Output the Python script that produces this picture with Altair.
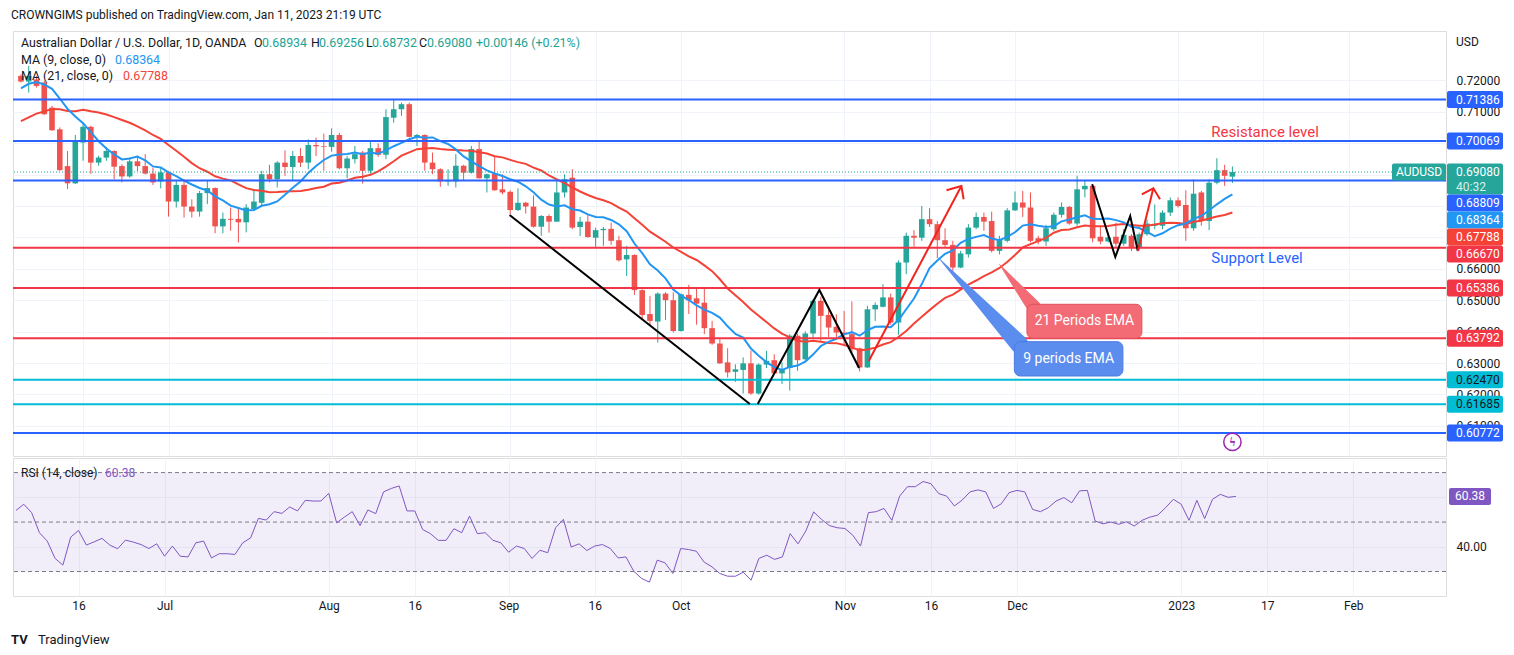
import altair as alt
import pandas as pd

# ------------------------------------------------------------------ data
# daily candles, bar index 0 = Jun 6 2022 ... 156 = Jan 11 2023
opens = [0.7214,0.7196,0.7203,0.7193,0.7113,0.7044,0.6927,0.6872,0.7002,0.7052,
 0.6938,0.6954,0.6975,0.6927,0.6894,0.6942,0.6927,0.6903,0.6878,0.6907,
 0.6814,0.6867,0.6798,0.6782,0.6841,0.6857,0.6735,0.6759,0.6759,0.6748,
 0.6790,0.6810,0.6901,0.6885,0.6938,0.6924,0.6959,0.6938,0.6994,0.6990,
 0.6988,0.7026,0.6920,0.6949,0.6970,0.6912,0.6984,0.6963,0.7081,0.7108,
 0.7124,0.7020,0.7026,0.6938,0.6917,0.6878,0.6878,0.6928,0.6906,0.6981,
 0.6888,0.6903,0.6853,0.6845,0.6787,0.6810,0.6798,0.6734,0.6768,0.6750,
 0.6843,0.6890,0.6733,0.6750,0.6699,0.6723,0.6727,0.6691,0.6630,0.6644,
 0.6532,0.6456,0.6432,0.6521,0.6500,0.6402,0.6517,0.6506,0.6492,0.6411,
 0.6362,0.6302,0.6272,0.6278,0.6299,0.6203,0.6295,0.6309,0.6267,0.6284,
 0.6387,0.6312,0.6394,0.6498,0.6453,0.6415,0.6397,0.6392,0.6347,0.6286,
 0.6471,0.6479,0.6509,0.6429,0.6620,0.6705,0.6699,0.6758,0.6742,0.6691,
 0.6676,0.6604,0.6646,0.6731,0.6765,0.6752,0.6657,0.6689,0.6786,0.6811,
 0.6795,0.6697,0.6687,0.6726,0.6772,0.6797,0.6744,0.6853,0.6864,0.6702,
 0.6687,0.6702,0.6680,0.6705,0.6668,0.6710,0.6737,0.6737,0.6779,0.6818,
 0.6803,0.6729,0.6843,0.6752,0.6874,0.6914,0.68934]
highs = [0.7219,0.7246,0.7214,0.7198,0.7119,0.7050,0.6975,0.7026,0.7065,0.7055,
 0.6960,0.6988,0.6977,0.6933,0.6954,0.6960,0.6965,0.6922,0.6922,0.6912,
 0.6880,0.6885,0.6821,0.6848,0.6880,0.6859,0.6779,0.6795,0.6795,0.6806,
 0.6854,0.6912,0.6931,0.6943,0.6977,0.6975,0.6984,0.7012,0.7018,0.7030,
 0.7047,0.7033,0.6959,0.6991,0.6975,0.7005,0.6999,0.7108,0.7140,0.7129,
 0.7129,0.7029,0.7028,0.6970,0.6920,0.6917,0.6965,0.6931,0.6991,0.7009,
 0.6903,0.6959,0.6901,0.6850,0.6856,0.6813,0.6834,0.6771,0.6773,0.6885,
 0.6901,0.6917,0.6765,0.6773,0.6731,0.6733,0.6747,0.6705,0.6673,0.6646,
 0.6535,0.6514,0.6525,0.6525,0.6525,0.6521,0.6549,0.6538,0.6538,0.6434,
 0.6376,0.6347,0.6296,0.6318,0.6339,0.6299,0.6339,0.6328,0.6302,0.6392,
 0.6394,0.6401,0.6503,0.6511,0.6468,0.6455,0.6466,0.6496,0.6349,0.6482,
 0.6493,0.6551,0.6521,0.6627,0.6715,0.6723,0.6800,0.6793,0.6752,0.6729,
 0.6689,0.6657,0.6742,0.6779,0.6779,0.6782,0.6705,0.6793,0.6846,0.6848,
 0.6843,0.6705,0.6740,0.6779,0.6811,0.6800,0.6896,0.6880,0.6869,0.6737,
 0.6715,0.6747,0.6726,0.6710,0.6715,0.6758,0.6805,0.6786,0.6827,0.6827,
 0.6850,0.6885,0.6848,0.6885,0.6952,0.6931,0.69256]
lows = [0.7193,0.7161,0.7177,0.7090,0.7039,0.6912,0.6854,0.6870,0.6944,0.6902,
 0.6928,0.6944,0.6885,0.6875,0.6890,0.6911,0.6900,0.6867,0.6856,0.6766,
 0.6795,0.6763,0.6763,0.6766,0.6806,0.6713,0.6713,0.6721,0.6684,0.6716,
 0.6785,0.6800,0.6875,0.6859,0.6896,0.6882,0.6924,0.6917,0.6959,0.6912,
 0.6973,0.6917,0.6888,0.6935,0.6871,0.6903,0.6956,0.6949,0.7065,0.7087,
 0.7018,0.6991,0.6912,0.6901,0.6861,0.6864,0.6859,0.6880,0.6903,0.6888,
 0.6843,0.6848,0.6837,0.6774,0.6784,0.6776,0.6731,0.6705,0.6715,0.6750,
 0.6827,0.6726,0.6704,0.6699,0.6670,0.6673,0.6676,0.6623,0.6577,0.6517,
 0.6436,0.6419,0.6365,0.6437,0.6397,0.6400,0.6456,0.6422,0.6392,0.6358,
 0.6297,0.6254,0.6240,0.6203,0.6199,0.6199,0.6284,0.6263,0.6233,0.6212,
 0.6275,0.6307,0.6381,0.6371,0.6383,0.6381,0.6360,0.6334,0.6273,0.6284,
 0.6434,0.6477,0.6422,0.6390,0.6583,0.6670,0.6689,0.6733,0.6634,0.6666,
 0.6591,0.6602,0.6636,0.6726,0.6721,0.6652,0.6646,0.6684,0.6784,0.6765,
 0.6684,0.6678,0.6673,0.6721,0.6763,0.6740,0.6737,0.6827,0.6684,0.6678,
 0.6684,0.6668,0.6673,0.6657,0.6659,0.6705,0.6726,0.6726,0.6768,0.6795,
 0.6689,0.6721,0.6737,0.6723,0.6869,0.6864,0.68732]
closes = [0.7196,0.7214,0.7182,0.7092,0.7041,0.6914,0.6872,0.7009,0.7052,0.6938,
 0.6954,0.6975,0.6925,0.6894,0.6942,0.6927,0.6903,0.6875,0.6907,0.6814,
 0.6867,0.6798,0.6782,0.6841,0.6857,0.6735,0.6759,0.6756,0.6748,0.6795,
 0.6814,0.6901,0.6885,0.6938,0.6924,0.6959,0.6938,0.6994,0.6990,0.6988,
 0.7026,0.6920,0.6951,0.6965,0.6912,0.6984,0.6963,0.7083,0.7108,0.7124,
 0.7020,0.7026,0.6938,0.6917,0.6878,0.6882,0.6928,0.6906,0.6981,0.6888,
 0.6901,0.6850,0.6843,0.6787,0.6810,0.6798,0.6734,0.6768,0.6750,0.6843,
 0.6885,0.6731,0.6750,0.6701,0.6723,0.6727,0.6689,0.6627,0.6644,0.6532,
 0.6453,0.6434,0.6521,0.6500,0.6402,0.6519,0.6500,0.6489,0.6411,0.6362,
 0.6299,0.6270,0.6280,0.6299,0.6203,0.6295,0.6307,0.6267,0.6281,0.6387,
 0.6309,0.6394,0.6498,0.6450,0.6413,0.6397,0.6392,0.6344,0.6286,0.6471,
 0.6485,0.6509,0.6429,0.6620,0.6705,0.6699,0.6758,0.6742,0.6691,0.6676,
 0.6604,0.6649,0.6731,0.6765,0.6750,0.6657,0.6694,0.6786,0.6811,0.6795,
 0.6689,0.6687,0.6729,0.6772,0.6797,0.6744,0.6853,0.6864,0.6697,0.6687,
 0.6700,0.6680,0.6708,0.6668,0.6710,0.6744,0.6742,0.6779,0.6818,0.6800,
 0.6729,0.6839,0.6752,0.6874,0.6914,0.6896,0.69080]
# closes of the 20 sessions before the first visible bar (only feed the moving averages)
pre_closes = [0.6960,0.6930,0.6945,0.6870,0.6935,0.6990,0.7030,0.6950,0.7040,0.7040,
 0.7105,0.7100,0.7085,0.7130,0.7165,0.7165,0.7190,0.7170,0.7225,0.7245]

rsi_values = [54.7,57.2,53.8,45.7,42.3,35.3,32.6,43.9,46.6,40.7,
 42.0,43.4,40.7,39.2,42.7,41.9,40.9,39.3,41.2,36.2,
 40.3,36.2,35.9,41.6,42.3,35.5,37.2,37.2,36.9,41.6,
 43.6,51.5,50.8,54.2,53.5,56.1,54.5,58.8,58.5,58.5,
 61.6,49.7,52.0,54.2,48.6,54.9,53.4,62.2,63.6,64.6,
 54.5,54.5,47.0,45.3,42.6,42.6,47.3,45.7,52.4,45.3,
 45.7,42.6,41.6,37.8,40.3,39.3,35.3,38.6,37.6,47.7,
 51.1,39.9,41.2,38.5,40.3,40.9,39.3,35.5,35.9,30.1,
 27.2,25.7,34.6,33.5,29.2,39.3,38.9,38.2,33.8,31.9,
 29.2,28.1,28.1,29.7,26.5,35.3,36.6,34.9,35.9,45.3,
 41.2,46.4,54.1,51.1,48.6,47.7,47.4,44.7,40.3,53.8,
 54.2,55.5,50.7,60.5,64.3,64.3,66.4,65.5,61.5,60.5,
 56.5,58.9,62.2,63.0,62.2,55.5,57.4,61.9,62.8,62.2,
 55.1,54.2,55.8,58.5,59.9,57.8,62.6,62.8,50.4,49.3,
 50.0,49.1,50.1,48.4,50.7,52.0,52.8,55.8,59.2,57.2,
 50.7,58.8,51.4,59.2,61.2,60.0,60.38]

date_tick_idx = [8, 19, 40, 51, 63, 74, 85, 106, 117, 128, 149, 160, 171]
date_tick_labels = ["16", "Jul", "Aug", "16", "Sep", "16", "Oct", "Nov", "16", "Dec", "2023", "17", "Feb"]
price_tick_values = [0.61, 0.62, 0.63, 0.64, 0.65, 0.66, 0.67, 0.68, 0.69, 0.70, 0.71, 0.72]
price_ticks_covered = ["0.67000", "0.68000", "0.69000", "0.70000"]   # hidden behind labels on the source
rsi_tick_values = [40, 60]
rsi_band = [30, 70]
rsi_dashed = [70, 50, 30]

level_prices = [0.71386, 0.70069, 0.68809, 0.66670, 0.65386, 0.63792, 0.62470, 0.61685, 0.60772]
level_groups = ["blue", "blue", "blue", "red", "red", "red", "cyan", "cyan", "blue"]

last_close = 0.69080
ma9_last = 0.68364
ma21_last = 0.67788
rsi_last = 60.38
countdown = "40:32"

# drawings in (bar index, price)
black_seg = ["a", "a", "b", "b", "b", "c", "c", "c", "c"]
black_idx = [62.92, 93.86, 94.88, 102.81, 107.93, 137.94, 140.92, 142.84, 143.82]
black_price = [0.67713, 0.61696, 0.61696, 0.65325, 0.62842, 0.68691, 0.66376, 0.67681, 0.66567]
arrow_seg = ["s1", "s1", "h1", "h1", "h1", "s2", "s2", "h2", "h2", "h2"]
arrow_idx = [109.17, 121.10, 119.18, 121.10, 121.39, 143.82, 145.82, 144.33, 145.82, 146.68]
arrow_price = [0.63065, 0.68636, 0.68499, 0.68636, 0.68213, 0.66567, 0.68563, 0.68372, 0.68563, 0.68213]

callout_text = ["21 Periods EMA", "9 periods EMA"]
callout_x1 = [129.54, 127.92]
callout_x2 = [144.34, 141.90]
callout_p1 = [0.64870, 0.63679]
callout_p2 = [0.63788, 0.62587]
callout_tx = [136.94, 134.91]
callout_tp = [0.64329, 0.63133]
callout_tip_idx = [126.00, 118.12]
callout_tip_price = [0.66144, 0.66354]
callout_base_idx = [130.43, 128.52]
callout_base_price = [0.64784, 0.63606]

note_text = ["Resistance level", "Support Level"]
note_idx = [153.29, 153.29]
note_price = [0.70365, 0.66354]
event_idx = [156.0]
event_price = [0.60487]

# ------------------------------------------------------------------ style / geometry
UP, DOWN = "#26A69A", "#EF5350"
BLUE, RED, CYAN = "#2962FF", "#F23645", "#00BCD4"
DARK, GRID = "#131722", "#F0F3FA"
MA9C, MA21C, RSIC = "#2196F3", "#F44336", "#7E57C2"
GROUP_COLOR = {"blue": BLUE, "red": RED, "cyan": CYAN}
W, H_MAIN, H_RSI = 1433, 425, 138
X_DOM = [-0.38, 182.86]
Y_DOM = [0.6004, 0.7357]
R_DOM = [20.1, 75.9]
FONT = "Roboto"

XS = alt.Scale(domain=X_DOM, nice=False, zero=False)
YS = alt.Scale(domain=Y_DOM, nice=False, zero=False)
RS = alt.Scale(domain=R_DOM, nice=False, zero=False)
XAX_MAIN = alt.Axis(values=date_tick_idx, labels=False, ticks=False, domain=False,
                    grid=True, gridColor=GRID, title=None)
covered = ",".join(f"'{t}'" for t in price_ticks_covered)
YAX_MAIN = alt.Axis(orient="right", values=price_tick_values, ticks=False,
                    labelExpr=f"indexof([{covered}], format(datum.value, '.5f')) >= 0 ? '' : format(datum.value, '.5f')",
                    domain=False, grid=True, gridColor=GRID, labelPadding=10, title=None,
                    labelColor=DARK, labelFontSize=12, labelFont=FONT)
expr = "''"
for i, t in zip(reversed(date_tick_idx), reversed(date_tick_labels)):
    expr = f"datum.value == {i} ? '{t}' : ({expr})"
XAX_RSI = alt.Axis(values=date_tick_idx, labelExpr=expr, ticks=False, domain=False,
                   grid=True, gridColor=GRID, title=None, labelPadding=4, labelFontSize=12,
                   labelColor=DARK, labelFont=FONT, labelOverlap=False, labelFlush=False)
YAX_RSI = alt.Axis(orient="right", values=rsi_tick_values, ticks=False,
                   labelExpr=f"datum.value == {rsi_tick_values[1]} ? '' : format(datum.value, '.2f')",
                   domain=False, grid=True, gridColor=GRID, labelPadding=10, title=None,
                   labelColor=DARK, labelFontSize=12, labelFont=FONT)


def X(f):
    return alt.X(f"{f}:Q", scale=XS, axis=XAX_MAIN)


def Y(f):
    return alt.Y(f"{f}:Q", scale=YS, axis=YAX_MAIN)


def XR(f):
    return alt.X(f"{f}:Q", scale=XS, axis=XAX_RSI)


def YR(f):
    return alt.Y(f"{f}:Q", scale=RS, axis=YAX_RSI)


def label(text, x, y, color=DARK, size=12.4, align="left", weight="normal"):
    return alt.Chart(pd.DataFrame({"t": [text]})).mark_text(
        align=align, baseline="middle", fontSize=size, color=color, font=FONT,
        fontWeight=weight).encode(x=alt.value(x), y=alt.value(y), text="t:N")


def to_px(p):
    return H_MAIN * (Y_DOM[1] - p) / (Y_DOM[1] - Y_DOM[0])


def to_price(px):
    return Y_DOM[1] - px * (Y_DOM[1] - Y_DOM[0]) / H_MAIN


# ------------------------------------------------------------------ main pane
n = len(closes)
cdf = pd.DataFrame({"idx": list(range(n)), "open": opens, "high": highs, "low": lows, "close": closes})
cdf["col"] = [UP if c >= o else DOWN for o, c in zip(opens, closes)]
DIRC = alt.Color("col:N", scale=None)

wicks = alt.Chart(cdf).mark_rule(strokeWidth=1).encode(x=X("idx"), y=Y("low"), y2="high", color=DIRC)
bodies = alt.Chart(cdf).mark_bar(size=5.6).encode(x=X("idx"), y=Y("open"), y2="close", color=DIRC)

ma_df = pd.DataFrame({"idx": list(range(-len(pre_closes), n)), "close": pre_closes + closes})
ma_base = (alt.Chart(ma_df)
           .transform_window(ma9="mean(close)", frame=[-8, 0], sort=[{"field": "idx"}])
           .transform_window(ma21="mean(close)", frame=[-20, 0], sort=[{"field": "idx"}])
           .transform_filter("datum.idx >= 0"))
ma21_line = ma_base.mark_line(color=MA21C, strokeWidth=2).encode(x=X("idx"), y=Y("ma21"))
ma9_line = ma_base.mark_line(color=MA9C, strokeWidth=2).encode(x=X("idx"), y=Y("ma9"))

lv = pd.DataFrame({"price": level_prices, "col": [GROUP_COLOR[g] for g in level_groups]})
levels = alt.Chart(lv).mark_rule(strokeWidth=2).encode(y=Y("price"), color=alt.Color("col:N", scale=None))
price_line = alt.Chart(pd.DataFrame({"p": [last_close]})).mark_rule(
    color=UP, strokeWidth=1, strokeDash=[1, 2]).encode(y=Y("p"))

bl = pd.DataFrame({"i": black_idx, "p": black_price, "seg": black_seg, "o": list(range(len(black_idx)))})
black_lines = alt.Chart(bl).mark_line(color="#000000", strokeWidth=2).encode(
    x=X("i"), y=Y("p"), detail="seg:N", order="o:Q")
ar = pd.DataFrame({"i": arrow_idx, "p": arrow_price, "seg": arrow_seg, "o": list(range(len(arrow_idx)))})
red_arrows = alt.Chart(ar).mark_line(color="#F2231F", strokeWidth=2).encode(
    x=X("i"), y=Y("p"), detail="seg:N", order="o:Q")

co_fill = ["#F26B75", "#5B8DEF"]
co_edge = ["#E0505B", "#4A7BE0"]
wedge = pd.DataFrame({
    "i": [callout_tip_idx[0], callout_base_idx[0], callout_tip_idx[1], callout_base_idx[1]],
    "p": [callout_tip_price[0], callout_base_price[0], callout_tip_price[1], callout_base_price[1]],
    "w": [0.5, 14, 0.5, 18],
    "name": ["r", "r", "b", "b"],
    "fill": [co_fill[0], co_fill[0], co_fill[1], co_fill[1]],
    "o": [0, 1, 2, 3]})
wedges = alt.Chart(wedge).mark_trail().encode(
    x=X("i"), y=Y("p"), size=alt.Size("w:Q", scale=None, legend=None),
    color=alt.Color("fill:N", scale=None), detail="name:N", order="o:Q")
cdf2 = pd.DataFrame({"x1": callout_x1, "x2": callout_x2, "p1": callout_p1, "p2": callout_p2,
                     "tx": callout_tx, "tp": callout_tp, "t": callout_text,
                     "fill": co_fill, "edge": co_edge})
co_boxes = alt.Chart(cdf2).mark_rect(cornerRadius=6, strokeWidth=1).encode(
    x=X("x1"), x2="x2", y=Y("p1"), y2="p2",
    fill=alt.Fill("fill:N", scale=None), stroke=alt.Stroke("edge:N", scale=None))
co_text = alt.Chart(cdf2).mark_text(color="white", fontSize=14, font=FONT, align="center",
                                    baseline="middle").encode(x=X("tx"), y=Y("tp"), text="t:N")

notes = alt.Chart(pd.DataFrame({"t": note_text, "i": note_idx, "p": note_price,
                                "c": [RED, BLUE]})).mark_text(
    fontSize=15, font=FONT, align="left", baseline="middle").encode(
    x=X("i"), y=Y("p"), text="t:N", color=alt.Color("c:N", scale=None))

ev = pd.DataFrame({"i": event_idx, "p": event_price, "t": ["ϟ"]})
event_circle = alt.Chart(ev).mark_point(shape="circle", size=300, filled=True, fill="white",
                                        stroke="#9C27B0", strokeWidth=1.5, opacity=1).encode(
    x=X("i"), y=Y("p"))
event_mark = alt.Chart(ev).mark_text(color="#9C27B0", fontSize=13, fontWeight="bold",
                                     baseline="middle", align="center").encode(
    x=X("i"), y=Y("p"), text="t:N")

# right-hand price labels (stacked so they do not overlap, as on the source)
GFILL = {"blue": BLUE, "red": RED, "cyan": CYAN, "last": UP, "ma9": MA9C, "ma21": MA21C}
entries = [(p, g) for p, g in zip(level_prices, level_groups)]
entries += [(last_close, "last"), (ma9_last, "ma9"), (ma21_last, "ma21")]
entries.sort(key=lambda e: -e[0])
rows = []
prev_bottom = -1e9
for p, g in entries:
    h = 31 if g == "last" else 17
    top = max(to_px(p) - 8.5, prev_bottom)
    bot = top + h
    prev_bottom = bot
    rows.append({"top_p": to_price(top), "bot_p": to_price(bot), "text_p": to_price(top + 8.5),
                 "label": f"{p:.5f}", "fill": GFILL[g], "tcol": DARK if g == "cyan" else "white"})
    if g == "last":
        rows.append({"top_p": to_price(top), "bot_p": to_price(top), "text_p": to_price(top + 23),
                     "label": countdown, "fill": GFILL[g], "tcol": "#D8F0EC"})
lab = pd.DataFrame(rows)
lab_boxes = alt.Chart(lab).mark_rect(cornerRadius=2).encode(
    x=alt.value(W + 1), x2=alt.value(W + 57), y=Y("top_p"), y2="bot_p",
    color=alt.Color("fill:N", scale=None))
lab_text = alt.Chart(lab).mark_text(align="left", baseline="middle", fontSize=12, font=FONT).encode(
    x=alt.value(W + 10), y=Y("text_p"), text="label:N", color=alt.Color("tcol:N", scale=None))

sym = pd.DataFrame({"top_p": [to_price(to_px(last_close) - 8.5)],
                    "bot_p": [to_price(to_px(last_close) + 8.5)], "p": [last_close], "t": ["AUDUSD"]})
sym_box = alt.Chart(sym).mark_rect(color=UP, cornerRadius=2).encode(
    x=alt.value(W - 54), x2=alt.value(W), y=Y("top_p"), y2="bot_p")
sym_text = alt.Chart(sym).mark_text(color="white", fontSize=12, font=FONT, align="center",
                                    baseline="middle").encode(
    x=alt.value(W - 27), y=Y("p"), text="t:N")

TEAL_TXT = "#22A392"
legend = [
    label("CROWNGIMS published on TradingView.com, Jan 11, 2023 21:19 UTC", -2, -16, size=12),
    label("Australian Dollar / U.S. Dollar, 1D, OANDA", 8, 12),
    label("O", 241, 12), label(f"{opens[-1]:.5f}", 249, 12, TEAL_TXT),
    label("H", 298, 12), label(f"{highs[-1]:.5f}", 306, 12, TEAL_TXT),
    label("L", 353, 12), label(f"{lows[-1]:.5f}", 359, 12, TEAL_TXT),
    label("C", 406, 12), label(f"{closes[-1]:.5f}", 414, 12, TEAL_TXT),
    label("+0.00146 (+0.21%)", 463, 12, TEAL_TXT),
    label("MA (9, close, 0)", 8, 29), label(f"{ma9_last:.5f}", 102, 29, MA9C),
    label("MA (21, close, 0)", 8, 45), label(f"{ma21_last:.5f}", 110, 45, MA21C),
    label("USD", W + 10, 11, size=12),
]

main = alt.layer(
    wicks, bodies, ma21_line, ma9_line, levels, price_line, black_lines, red_arrows,
    wedges, co_boxes, co_text, notes, event_circle, event_mark,
    sym_box, sym_text, lab_boxes, lab_text, *legend
).properties(width=W, height=H_MAIN)

# ------------------------------------------------------------------ RSI pane
rdf = pd.DataFrame({"idx": list(range(n)), "rsi": rsi_values})
band = alt.Chart(pd.DataFrame({"lo": [rsi_band[0]], "hi": [rsi_band[1]]})).mark_rect(
    color=RSIC, opacity=0.1).encode(x=alt.value(0), x2=alt.value(W), y=YR("lo"), y2="hi")
dashed = alt.Chart(pd.DataFrame({"v": rsi_dashed})).mark_rule(
    color="#787B86", strokeDash=[4, 3], strokeWidth=1).encode(y=YR("v"))
rsi_line = alt.Chart(rdf).mark_line(color=RSIC, strokeWidth=1).encode(x=XR("idx"), y=YR("rsi"))
half = 8.5 * (R_DOM[1] - R_DOM[0]) / H_RSI
rbox_df = pd.DataFrame({"lo": [rsi_last - half], "hi": [rsi_last + half], "v": [rsi_last],
                        "t": [f"{rsi_last:.2f}"]})
rsi_box = alt.Chart(rbox_df).mark_rect(color=RSIC, cornerRadius=2).encode(
    x=alt.value(W + 3), x2=alt.value(W + 45), y=YR("lo"), y2="hi")
rsi_box_text = alt.Chart(rbox_df).mark_text(color="white", fontSize=12, font=FONT,
                                            align="center", baseline="middle").encode(
    x=alt.value(W + 24), y=YR("v"), text="t:N")
rsi_legend = [
    label("RSI (14, close)", 8, 15, size=12),
    label(f"{rsi_last:.2f}", 92, 15, RSIC, size=12),
    label("TV", -2, 182, size=13, weight="bold"),
    label("TradingView", 25, 182, size=13),
]
rsi = alt.layer(band, dashed, rsi_line, rsi_box, rsi_box_text, *rsi_legend).properties(
    width=W, height=H_RSI)

chart = alt.vconcat(main, rsi, spacing=0).properties(
    padding={"left": 2, "top": 0, "right": 0, "bottom": 0}
).configure_view(stroke="#E0E3EB").configure(font=FONT, background="white")

chart.save("out.html", embed_options={"renderer": "svg", "actions": False})
